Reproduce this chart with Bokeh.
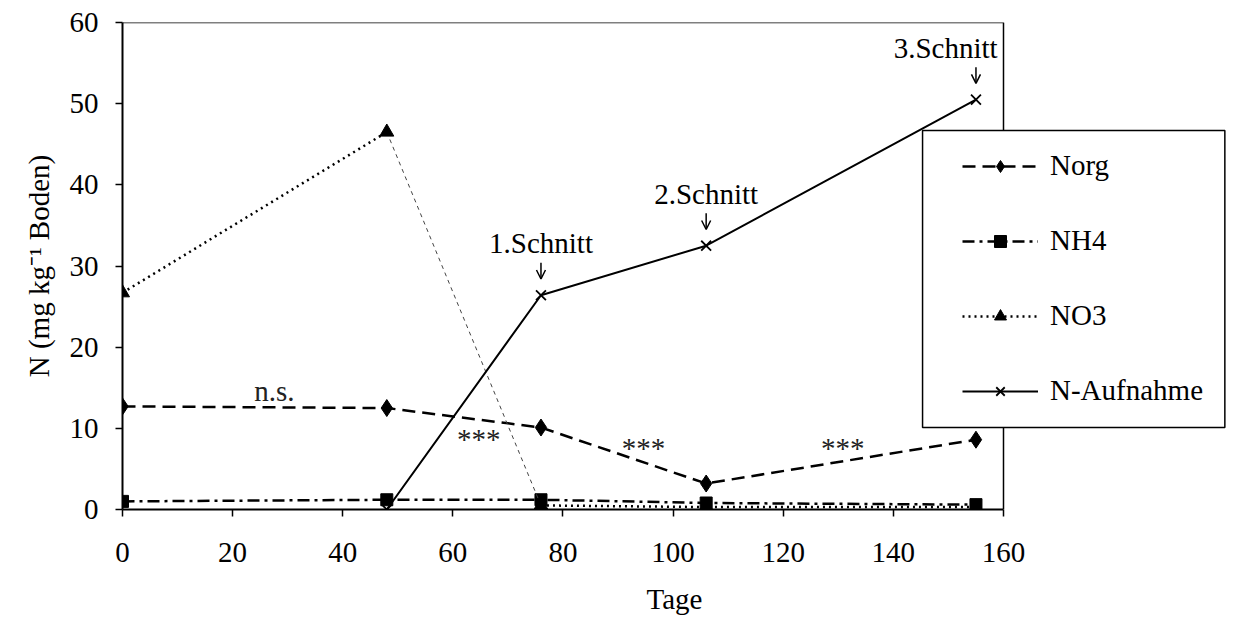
from bokeh.plotting import figure
from bokeh.models import Range1d, FixedTicker, Legend, LegendItem, Arrow, OpenHead
from bokeh.core.properties import value
from bokeh.embed import file_html
from bokeh.resources import INLINE

# ---- data ----
days = [0, 48, 76, 106, 155]
norg = [12.7, 12.5, 10.1, 3.2, 8.6]
nh4 = [1.0, 1.2, 1.2, 0.8, 0.6]
no3 = [26.7, 46.5, 0.5, 0.3, 0.3]
upt_days = [48, 76, 106, 155]
n_uptake = [0.0, 26.4, 32.5, 50.5]

cut_labels = ["1.Schnitt", "2.Schnitt", "3.Schnitt"]
sig_labels = ["n.s.", "***", "***", "***"]
sig_x = [27.6, 64.7, 94.6, 130.8]
sig_y = [14.6, 8.7, 7.6, 7.6]

x_ticks = [0, 20, 40, 60, 80, 100, 120, 140, 160]
y_ticks = [0, 10, 20, 30, 40, 50, 60]
X_MAX, Y_MAX = 160, 60

FONT = "Liberation Serif"
FS = "29px"

p = figure(width=1226, height=617, output_backend="svg", toolbar_location=None,
           x_range=Range1d(0, 200.5), y_range=Range1d(0, Y_MAX),
           min_border_left=122, min_border_right=0, min_border_top=22, min_border_bottom=107)
p.xgrid.visible = False
p.ygrid.visible = False
p.outline_line_color = None
p.background_fill_color = "white"

for ax in (p.xaxis, p.yaxis):
    ax.axis_line_width = 2
    ax.axis_line_color = "black"
    ax.major_tick_line_width = 1.5
    ax.major_tick_line_color = "black"
    ax.major_tick_in = 0
    ax.major_tick_out = 7
    ax.minor_tick_line_color = None
    ax.major_label_text_font = FONT
    ax.major_label_text_font_size = FS
    ax.major_label_text_color = "black"
    ax.axis_label_text_font = FONT
    ax.axis_label_text_font_size = FS
    ax.axis_label_text_font_style = "normal"
    ax.axis_label_text_color = "black"

p.xaxis.bounds = (0, X_MAX)
p.xaxis.ticker = FixedTicker(ticks=x_ticks)
p.yaxis.ticker = FixedTicker(ticks=y_ticks)
p.xaxis.axis_label = "Tage"
p.yaxis.axis_label = "N (mg kg\u207b\u00b9 Boden)"
p.xaxis.major_label_standoff = 26
p.xaxis.axis_label_standoff = 18
p.yaxis.major_label_standoff = 17
p.yaxis.axis_label_standoff = 12

# frame (top and right borders only up to the data area)
p.line(x=[0, X_MAX, X_MAX], y=[Y_MAX, Y_MAX, 0], line_color="black", line_width=1.5)

# legend box
p.quad(left=[145.3], right=[200.2], bottom=[10.1], top=[46.7],
       fill_color="white", line_color="black", line_width=1.5)

# ---- series ----
r_norg_l = p.line(days, norg, line_color="black", line_width=2.5, line_dash="13 7")
r_norg_m = p.scatter(days, norg, marker="diamond", size=17, color="black")

r_nh4_l = p.line(days, nh4, line_color="black", line_width=2.5, line_dash="12 5 3 5")
r_nh4_m = p.scatter(days, nh4, marker="square", size=12, color="black")

r_no3_l = p.line(days[:2], no3[:2], line_color="black", line_width=2.5, line_dash="2 4")
p.line(days[1:3], no3[1:3], line_color="#444444", line_width=1, line_dash="4 4")
p.line(days[2:], no3[2:], line_color="black", line_width=2.5, line_dash="2 4")
r_no3_m = p.scatter(days, no3, marker="triangle", size=14, color="black")

r_up_l = p.line(upt_days, n_uptake, line_color="black", line_width=2)
r_up_m = p.scatter(upt_days, n_uptake, marker="x", size=14, line_color="black", line_width=1.8)

# ---- annotations ----
p.text(x=sig_x, y=sig_y, text=sig_labels, text_font=value(FONT), text_font_size=FS,
       text_align="center", text_baseline="middle", text_color="#222222")

lab_x = [upt_days[1], upt_days[2], upt_days[3] - 5.5]
lab_y = [v + 6.4 for v in n_uptake[1:]]
p.text(x=lab_x, y=lab_y, text=cut_labels, text_font=value(FONT), text_font_size=FS,
       text_align="center", text_baseline="middle", text_color="black")
for d, v in zip(upt_days[1:], n_uptake[1:]):
    p.add_layout(Arrow(end=OpenHead(size=9, line_width=1.5, line_color="black"),
                       x_start=d, y_start=v + 4.0, x_end=d, y_end=v + 2.0,
                       line_width=1.5, line_color="black"))

legend = Legend(items=[
    LegendItem(label="Norg", renderers=[r_norg_l, r_norg_m]),
    LegendItem(label="NH4", renderers=[r_nh4_l, r_nh4_m]),
    LegendItem(label="NO3", renderers=[r_no3_l, r_no3_m]),
    LegendItem(label="N-Aufnahme", renderers=[r_up_l, r_up_m]),
], location=(840, 102))
legend.border_line_color = None
legend.background_fill_alpha = 0
legend.padding = 0
legend.margin = 0
legend.spacing = 42
legend.label_height = 30
legend.glyph_height = 30
legend.glyph_width = 76
legend.label_standoff = 12
legend.label_text_font = FONT
legend.label_text_font_size = FS
legend.label_text_color = "black"
p.add_layout(legend, "center")

open("out.html", "w").write(file_html(p, INLINE))
